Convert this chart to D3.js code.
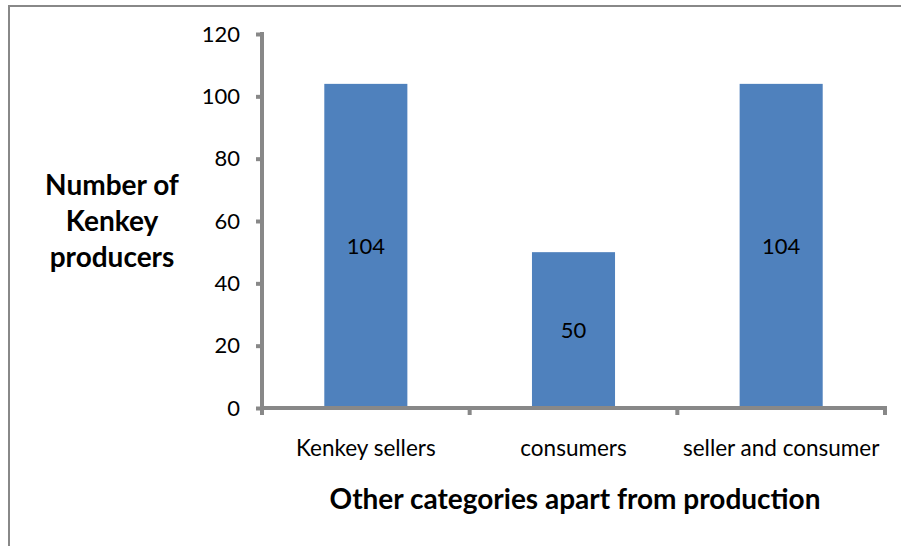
<!DOCTYPE html>
<html><head><meta charset="utf-8">
<script src="https://cdn.jsdelivr.net/npm/d3@7"></script>
<style>body{margin:0;background:#fff}svg{display:block}</style>
</head><body>
<svg id="c" width="901" height="546"></svg>
<script>
const categories = ["Kenkey sellers", "consumers", "seller and consumer"];
const values = [104, 50, 104];
const yTicks = [0, 20, 40, 60, 80, 100, 120];
const yTitle = ["Number of", "Kenkey", "producers"];
const xTitle = "Other categories apart from production";

(function(){
const svg = d3.select("#c");
const font = "Lato, 'Open Sans', sans-serif";
const gray = "#888888";

svg.append("line").attr("x1",9).attr("x2",901).attr("y1",6).attr("y2",6).attr("stroke",gray).attr("stroke-width",2);
svg.append("line").attr("x1",9).attr("x2",9).attr("y1",5).attr("y2",546).attr("stroke",gray).attr("stroke-width",2);

const pL = 262, pR = 885, pT = 34, pB = 408;
const x = d3.scaleBand().domain(categories).range([pL, pR]).paddingInner(0.6).paddingOuter(0.3);
const xb = d3.scaleBand().domain(categories).range([pL, pR]);
const y = d3.scaleLinear().domain([0, 120]).range([pB, pT]);

svg.selectAll("rect.bar").data(categories).join("rect")
  .attr("class","bar")
  .attr("x", d => x(d)).attr("width", x.bandwidth())
  .attr("y", (d,i) => y(values[i])).attr("height", (d,i) => y(0) - y(values[i]))
  .attr("fill", "#4F81BD");

svg.selectAll("text.val").data(categories).join("text")
  .attr("class","val")
  .attr("x", d => x(d) + x.bandwidth()/2)
  .attr("y", (d,i) => (y(values[i]) + y(0))/2)
  .attr("dy","0.36em").attr("text-anchor","middle")
  .attr("font-family", font).attr("font-size", 22).attr("fill","#000")
  .text((d,i) => values[i]);

const yAxis = d3.axisLeft(y).tickValues(yTicks).tickSize(6).tickPadding(16).tickSizeOuter(0);
const gy = svg.append("g").attr("transform", `translate(${pL},0)`).call(yAxis);
gy.select(".domain").attr("stroke", gray).attr("stroke-width", 4).attr("d", `M0,${pT-2}V${pB+2}`);
gy.selectAll(".tick line").attr("stroke", gray).attr("stroke-width", 4);
gy.selectAll(".tick text").attr("font-family", font).attr("font-size", 22).attr("fill","#000");

const boundaries = categories.map(c => xb(c)).concat([pR]);
const gx = svg.append("g").attr("transform", `translate(0,${pB})`);
gx.append("path").attr("d", `M${pL-2},0H${pR+2}`).attr("stroke", gray).attr("stroke-width", 4).attr("fill","none");
gx.selectAll("line.tk").data(boundaries).join("line").attr("class","tk")
  .attr("x1", d => d).attr("x2", d => d).attr("y1", 0).attr("y2", 7)
  .attr("stroke", gray).attr("stroke-width", 4);
gx.selectAll("text.cat").data(categories).join("text").attr("class","cat")
  .attr("x", d => xb(d) + xb.bandwidth()/2).attr("y", 48)
  .attr("text-anchor","middle").attr("font-family", font).attr("font-size", 22.5).attr("fill","#000")
  .text(d => d);

svg.append("text").attr("x", 575).attr("y", 509).attr("text-anchor","middle")
  .attr("font-family", font).attr("font-weight","bold").attr("font-size", 28).attr("fill","#000")
  .text(xTitle);
svg.selectAll("text.yt").data(yTitle).join("text").attr("class","yt")
  .attr("x", 112).attr("y", (d,i) => 195 + i*36).attr("text-anchor","middle")
  .attr("font-family", font).attr("font-weight","bold").attr("font-size", 28).attr("fill","#000")
  .text(d => d);
})();
</script>
</body></html>
